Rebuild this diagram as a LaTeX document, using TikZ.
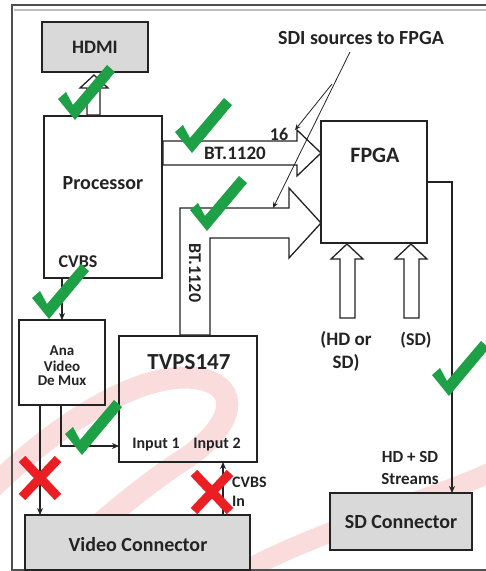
\documentclass[tikz,border=0pt]{standalone}
\usepackage{fontspec}
\setmainfont{Carlito}
\usetikzlibrary{arrows.meta}
\definecolor{boxgray}{RGB}{217,217,217}
\definecolor{chkgreen}{RGB}{30,160,70}
\definecolor{xred}{RGB}{235,30,35}
\definecolor{wmpink}{RGB}{240,140,140}
\definecolor{ink}{RGB}{35,35,35}
\newcommand{\fsz}[1]{\bfseries\fontsize{#1}{#1}\selectfont}
\begin{document}
\begin{tikzpicture}[x=1pt,y=-1pt,
  box/.style={draw=ink, line width=1.4pt, inner sep=0},
  graybox/.style={box, fill=boxgray},
  blockarrow/.style={draw=ink, line width=1.3pt, fill=white, line join=miter},
  lbl/.style={inner sep=0, text=ink, font=\fsz{20}},
  arr/.style={draw=ink, line width=1.4pt, -{Stealth[length=7pt,width=6pt]}},
  call/.style={draw=ink, line width=0.8pt, -{Stealth[length=6pt,width=5pt]}},
  chk/.pic={\fill[chkgreen] (-15,-18) -- (-7,-25) -- (0,-12) -- (34,-52) -- (42,-45) -- (2,3) -- cycle;},
  crossx/.pic={\draw[xred, line width=9pt] (-18,-19) -- (18,19) (18,-19) -- (-18,19);}
]
\useasboundingbox (0,0) rectangle (486,571);
% watermark
\draw[wmpink, opacity=0.3, line width=22pt, line cap=round]
  (-10,490) .. controls (60,420) and (150,365) .. (205,380)
  .. controls (245,392) and (228,432) .. (180,462)
  .. controls (130,495) and (80,540) .. (40,580);
\draw[wmpink, opacity=0.3, line width=20pt]
  (230,580) .. controls (300,535) and (420,505) .. (496,470);
% frame
\draw[ink!80, line width=1.6pt] (486,5) -- (12,5) -- (12,571);
\draw[ink!30, line width=1.2pt] (14,10) -- (486,10);
\draw[ink!80, line width=1.6pt] (12,570) -- (486,570);

% boxes
\node[graybox, minimum width=106, minimum height=50] (hdmi) at (95,47) {};
\node[box, minimum width=118, minimum height=162] (proc) at (103,197) {};
\node[box, minimum width=106, minimum height=122] (fpga) at (374,182) {};
\node[box, minimum width=86, minimum height=85] (demux) at (62,362.5) {};
\node[box, minimum width=138, minimum height=126] (tvps) at (188,399) {};
\node[graybox, minimum width=225, minimum height=55] (vidcon) at (137.5,542.5) {};
\node[graybox, minimum width=142, minimum height=57] (sdcon) at (401,521.5) {};

% block arrows
\draw[blockarrow] (87,115) -- (87,88) -- (80,88) -- (94,75) -- (108,88) -- (100,88) -- (100,115) -- cycle;
\draw[blockarrow] (163,141) -- (297,141) -- (297,130) -- (321,153) -- (297,176) -- (297,165) -- (163,165) -- cycle;
\draw[blockarrow] (180,335) -- (180,208) -- (289,208) -- (289,188) -- (321,223) -- (289,258) -- (289,238) -- (210,238) -- (210,335) -- cycle;
\draw[blockarrow] (340,318) -- (340,259) -- (331,259) -- (347,244) -- (363,259) -- (355,259) -- (355,318) -- cycle;
\draw[blockarrow] (404,318) -- (404,259) -- (395,259) -- (411,244) -- (427,259) -- (419,259) -- (419,318) -- cycle;

% texts
\node[lbl, font=\fsz{19}] (thdmi) at (95,47) {HDMI};
\node[lbl] (tproc) at (103,183) {Processor};
\node[lbl, font=\fsz{18}] (tcvbs) at (78,262) {CVBS};
\node[lbl, font=\fsz{22}] (tfpga) at (375,155) {FPGA};
\node[lbl, font=\fsz{23}] (ttvps) at (189,362) {TVPS147};
\node[lbl, font=\fsz{16}] (tin1) at (156,445) {Input 1};
\node[lbl, font=\fsz{16}] (tin2) at (217,445) {Input 2};
\node[lbl] (tvid) at (138,545) {Video Connector};
\node[lbl] (tsd) at (401,522) {SD Connector};
\node[lbl, font=\fsz{17}, align=center] (tstreams) at (410,468) {HD + SD\\[5pt]Streams};
\node[lbl, font=\fsz{19}, align=center] (thdsd) at (346,351) {(HD or\\[4pt]SD)};
\node[lbl, font=\fsz{18}] (tsdonly) at (416,340) {(SD)};
\node[lbl, font=\fsz{15}, align=center] (tdemux) at (62,366) {Ana\\[1pt]Video\\[-1pt]De Mux};
\node[lbl, font=\fsz{20}] (tsdi) at (361,38) {SDI sources to FPGA};
\node[lbl, font=\fsz{19}] (tbt1) at (235,153) {BT.1120};
\node[lbl, font=\fsz{18}] (t16) at (279,134) {16};
\node[lbl, font=\fsz{18}, rotate=-90] (tbt2) at (195,273) {BT.1120};
\node[lbl, font=\fsz{16}, anchor=west, align=left] (tcvbsin) at (232,492) {CVBS\\[3pt]In};

% connectors
\coordinate (p1) at (62,278);
\coordinate (d1) at (62,320);
\draw[arr] (p1) -- (d1);
\coordinate (d2) at (40,405);
\coordinate (v1) at (40,515);
\draw[arr] (d2) -- (v1);
\coordinate (d3) at (61,405);
\coordinate (i1) at (119,446);
\draw[arr] (d3) |- (i1);
\coordinate (v2) at (223,515);
\coordinate (i2) at (223,462);
\draw[arr] (v2) -- (i2);
\coordinate (s1) at (452,493);
\draw[arr] (fpga.east) -| (s1);

% callouts
\coordinate (sdi) at (350,52);
\coordinate (sdiA) at (273,208);
\coordinate (sdiB0) at (332,84);
\coordinate (sdiB) at (295,130);
\draw[call] (sdi) -- (sdiA);
\draw[call] (sdiB0) -- (sdiB);

% marks
\pic at (73,117) {chk};
\pic at (190,150) {chk};
\pic at (205,228) {chk};
\pic at (47,316) {chk};
\pic at (80,452) {chk};
\pic at (447,393) {chk};
\pic at (40,478) {crossx};
\pic at (212,492) {crossx};
\end{tikzpicture}
\end{document}
